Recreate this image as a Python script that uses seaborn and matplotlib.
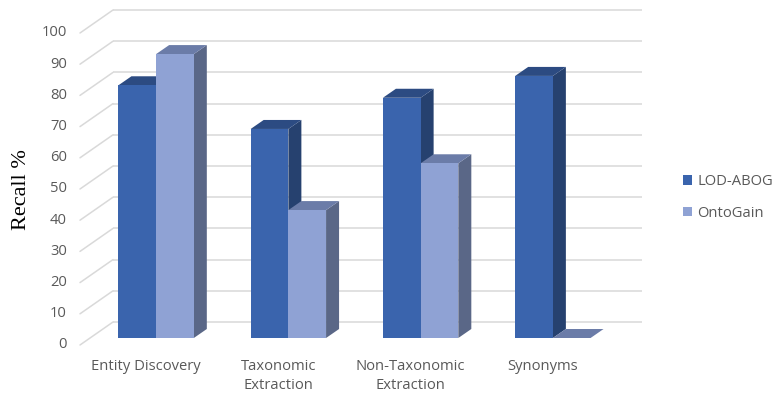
import matplotlib
matplotlib.use("Agg")
import matplotlib.pyplot as plt
from matplotlib.patches import Polygon, Patch
import pandas as pd
import seaborn as sns

# Data
categories = ["Entity Discovery", "Taxonomic\nExtraction", "Non-Taxonomic\nExtraction", "Synonyms"]
lod_abog = [81, 67, 77, 84]
ontogain = [91, 41, 56, 0]
series_names = ["LOD-ABOG", "OntoGain"]
y_ticks = list(range(0, 101, 10))

df = pd.DataFrame({
    "Category": categories * 2,
    "Recall": lod_abog + ontogain,
    "Method": [series_names[0]] * len(categories) + [series_names[1]] * len(categories),
})

# face colours: front, side, top
front_cols = {"LOD-ABOG": "#3A64AD", "OntoGain": "#8FA2D4"}
side_cols = {"LOD-ABOG": "#26416F", "OntoGain": "#5A6787"}
top_cols = {"LOD-ABOG": "#2C4B82", "OntoGain": "#6B7CA8"}
grid_col = "#D9D9D9"
text_col = "#595959"
fs = 10.6

W, H = 772, 394
fig = plt.figure(figsize=(W / 100, H / 100), dpi=100)
sns.set_style("white")
plt.rcParams["font.family"] = ["Open Sans", "DejaVu Sans"]

# axes area = plane of the bars' front faces
px_left, px_right = 90, 619
px_zero, px_hundred = 338, 26
ax = fig.add_axes([px_left / W, 1 - px_zero / H,
                   (px_right - px_left) / W, (px_zero - px_hundred) / H])

px_per_x = (px_right - px_left) / 4.0
px_per_y = (px_zero - px_hundred) / 100.0

def dx(p):
    return p / px_per_x

def dy(p):
    return p / px_per_y

# oblique depth offsets
wall_dx, wall_dy = dx(23), dy(16)     # back wall
front_dx, front_dy = dx(-10), dy(-7)  # front (label) plane
bar_dx, bar_dy = dx(13), dy(9)        # bar depth

sns.barplot(data=df, x="Category", y="Recall", hue="Method", palette=front_cols,
            hue_order=series_names, width=0.57, saturation=1, linewidth=0,
            legend=False, ax=ax)
ax.set_xlim(-0.5, 3.5)
ax.set_ylim(0, 100)
ax.axis("off")

# back wall and left side gridlines
for v in y_ticks:
    ax.plot([-0.5 + wall_dx, 3.5 + wall_dx], [v + wall_dy, v + wall_dy],
            color=grid_col, lw=1.1, zorder=0.5, clip_on=False, solid_capstyle="butt")
    ax.plot([-0.5 + front_dx, -0.5 + wall_dx], [v + front_dy, v + wall_dy],
            color=grid_col, lw=1.1, zorder=0.5, clip_on=False)
    ax.text(-0.5 + front_dx - dx(13), v + front_dy, str(v), ha="right", va="center",
            fontsize=fs, color=text_col, clip_on=False)

# extrude each bar into a box
for k, (name, cont) in enumerate(zip(series_names, ax.containers)):
    for rect in cont:
        x0 = rect.get_x()
        w = rect.get_width()
        h = rect.get_height()
        x1 = x0 + w
        side = Polygon([(x1, 0), (x1 + bar_dx, bar_dy), (x1 + bar_dx, h + bar_dy), (x1, h)],
                       closed=True, facecolor=side_cols[name], edgecolor="none",
                       zorder=2 + 2 * k, clip_on=False)
        top = Polygon([(x0, h), (x0 + bar_dx, h + bar_dy), (x1 + bar_dx, h + bar_dy), (x1, h)],
                      closed=True, facecolor=top_cols[name], edgecolor="none",
                      zorder=2 + 2 * k, clip_on=False)
        ax.add_patch(side)
        ax.add_patch(top)
        rect.set_zorder(3 + 2 * k)
        rect.set_clip_on(False)

# category labels on the front plane
for i, c in enumerate(categories):
    ax.text(i + front_dx, -dy(21), c, ha="center", va="top", fontsize=fs,
            color=text_col, linespacing=1.35, clip_on=False)

fig.text(22 / W, 1 - 190 / H, "Recall %", rotation=90, ha="center", va="center",
         fontsize=16, family=["Liberation Serif"], color="black")

handles = [Patch(facecolor=front_cols[n], edgecolor="none") for n in series_names]
fig.legend(handles, series_names, loc="center left", bbox_to_anchor=(683 / W, 1 - 197.5 / H),
           frameon=False, fontsize=fs, handlelength=0.62, handleheight=0.62,
           handletextpad=0.35, labelspacing=1.1, borderpad=0, borderaxespad=0,
           labelcolor=text_col)

fig.savefig("out.png", dpi=100, facecolor="white")
